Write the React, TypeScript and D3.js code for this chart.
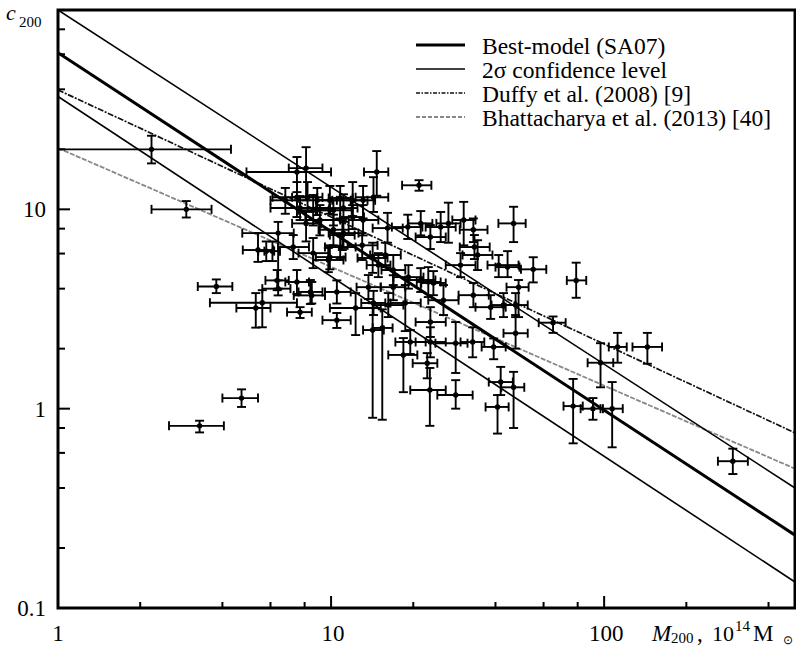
import React from 'react';
import * as d3 from 'd3';

// ---- data ----
const xMajorTicks = [1, 10, 100];
const xMinorTicks = [2, 4, 6, 8, 20, 40, 60, 80, 200, 400];
const yMajorTicks = [0.1, 1, 10];
const yMinorTicks = [0.2, 0.4, 0.6, 0.8, 2, 4, 6, 8, 20, 40, 60, 80];

// model lines: c200 at M200 = 1 and 500 (10^14 Msun)
const modelMass = [1, 500];
const bestModel = [61, 0.232];
const upper2sigma = [100, 0.4];
const lower2sigma = [36.8, 0.135];
const duffy2008 = [39.7, 0.756];
const bhattacharya2013 = [20.3, 0.5];

const legendLabels = [
  'Best-model (SA07)',
  '2\u03c3 confidence level',
  'Duffy et al. (2008) [9]',
  'Bhattacharya et al. (2013) [40]',
];

// clusters: [M200, M_low, M_high, c200, c_low, c_high]
const clusters: number[][] = [
  [2.2, 1.0, 4.3, 20, 17.0, 23.4],
  [2.95, 2.2, 3.65, 10, 9.1, 11],
  [3.8, 3.25, 4.35, 4.1, 3.8, 4.45],
  [4.7, 4.0, 5.4, 1.13, 1.02, 1.25],
  [3.3, 2.55, 4.05, 0.82, 0.76, 0.87],
  [7.5, 4.9, 10, 15.4, 12.2, 18.3],
  [8.1, 7.0, 9.3, 16.1, 11.1, 20.5],
  [14.7, 13.2, 16.2, 15.4, 11.7, 19.6],
  [21, 18.2, 23.3, 13.2, 12.4, 14.0],
  [46.6, 41, 51.6, 8.5, 6.85, 10.3],
  [79, 73, 86, 4.4, 3.6, 5.4],
  [55, 49.6, 61.4, 5.0, 4.3, 5.75],
  [65, 57.6, 72.3, 2.7, 2.4, 2.9],
  [112, 104, 121, 2.04, 1.7, 2.4],
  [144, 127, 163, 2.04, 1.68, 2.4],
  [97, 87, 108, 1.7, 1.28, 2.13],
  [91, 82, 97, 1.0, 0.88, 1.13],
  [107, 99, 117, 1.0, 0.64, 1.36],
  [77, 71, 83.5, 1.03, 0.67, 1.41],
  [296, 261, 336, 0.545, 0.47, 0.63],
  [23, 19.5, 26.3, 1.24, 0.82, 1.6],
  [28.6, 24.5, 33, 1.17, 1.0, 1.39],
  [40.7, 36.8, 44.7, 1.02, 0.75, 1.17],
  [41.8, 37.8, 46.3, 1.36, 1.17, 1.62],
  [46.6, 42, 51, 1.28, 0.8, 1.53],
  [18.4, 16.2, 20.7, 1.86, 1.21, 2.26],
  [22.5, 19.9, 24.5, 1.69, 1.42, 1.9],
  [14.2, 13.1, 15.6, 2.48, 0.9, 3.38],
  [15.4, 14.2, 16.8, 2.54, 0.88, 3.15],
  [5.6, 3.6, 7.5, 3.4, 2.56, 3.93],
  [5.3, 4.5, 6.0, 3.2, 2.55, 3.8],
  [7.7, 6.9, 8.5, 3.05, 2.85, 3.23],
  [10.5, 9.3, 11.8, 2.78, 2.54, 3.02],
  [8.5, 7.3, 9.5, 3.7, 3.37, 4.32],
  [6.4, 5.6, 7.1, 4.0, 3.7, 4.4],
  [12.3, 9.9, 15.2, 3.2, 2.34, 3.8],
  [10.5, 9.5, 11.8, 3.85, 3.37, 4.4],
  [16.9, 15.2, 18.7, 4.07, 3.5, 4.67],
  [5.4, 4.75, 6.15, 6.25, 5.45, 7.6],
  [6.4, 4.73, 7.3, 7.6, 4.0, 8.65],
  [6.35, 5.75, 7.0, 4.4, 3.93, 4.96],
  [6.8, 6.0, 7.7, 11.1, 9.5, 12.8],
  [7.5, 6.1, 8.9, 11.5, 9.15, 13.7],
  [8.2, 7.2, 9.3, 11.5, 9.7, 13.7],
  [8.9, 7.5, 10.1, 11.1, 9.36, 12.8],
  [9.9, 8.8, 11.8, 11.1, 9.5, 13.1],
  [10.8, 9.8, 12.0, 11.4, 9.0, 13.1],
  [12.0, 10.5, 13.6, 11.1, 9.25, 13.7],
  [13.1, 11.9, 14.5, 11.1, 9.0, 13.1],
  [14.3, 12.3, 16.2, 11.5, 9.7, 14.5],
  [7.7, 6.0, 9.9, 10.15, 8.84, 11.66],
  [8.6, 7.6, 9.8, 9.9, 8.3, 11.8],
  [10.2, 8.8, 11.9, 9.9, 8.3, 11.1],
  [11.1, 9.85, 12.5, 10.15, 8.65, 11.9],
  [8.1, 7.2, 9.2, 8.5, 6.9, 9.8],
  [9.1, 8.05, 10.8, 8.84, 7.4, 10.5],
  [10.2, 9.0, 11.6, 7.9, 6.6, 9.4],
  [11.1, 9.8, 12.6, 7.6, 6.4, 9.0],
  [12.0, 10.8, 13.2, 9.15, 7.96, 10.5],
  [13.1, 11.6, 14.9, 8.84, 7.4, 10.5],
  [16.1, 14.2, 18.3, 8.05, 6.8, 9.6],
  [19.1, 16.7, 21.6, 8.15, 7.1, 9.4],
  [21.3, 19.2, 23.5, 8.5, 7.4, 9.8],
  [23.1, 20.4, 26.3, 7.26, 6.32, 8.34],
  [25.2, 22.2, 28.6, 8.15, 6.85, 9.7],
  [26.9, 24.3, 29.8, 8.5, 6.8, 10.8],
  [30.6, 27.8, 33.8, 8.84, 6.6, 10.9],
  [33.2, 29.6, 37.4, 7.9, 6.85, 9.0],
  [33.5, 29.6, 38.1, 6.47, 5.63, 7.43],
  [7.27, 6.4, 8.3, 6.47, 5.63, 7.43],
  [8.6, 7.6, 9.8, 6.03, 5.07, 7.18],
  [9.9, 8.8, 11.3, 5.76, 5.0, 6.6],
  [10.8, 9.5, 12.3, 6.47, 5.63, 7.43],
  [11.0, 9.9, 12.2, 7.43, 6.25, 8.84],
  [13.0, 11.5, 14.8, 6.6, 5.57, 7.6],
  [14.2, 12.5, 16.1, 5.7, 4.8, 6.8],
  [14.9, 13.5, 16.5, 5.25, 4.57, 6.03],
  [15.8, 13.9, 18.0, 5.9, 5.13, 6.8],
  [16.9, 15.3, 18.7, 4.96, 4.17, 5.9],
  [19.2, 16.9, 21.8, 4.57, 4.0, 5.25],
  [21.3, 18.7, 24.1, 4.42, 3.85, 5.07],
  [22.7, 20.6, 25.2, 4.32, 3.63, 5.13],
  [29.8, 26.3, 33.8, 5.25, 4.57, 6.03],
  [34.4, 30.3, 39.0, 5.9, 4.96, 7.0],
  [41.1, 37.4, 48.6, 5.25, 4.57, 5.9],
  [44.3, 40.0, 49.0, 5.13, 4.57, 6.17],
  [14.3, 12.9, 15.8, 3.39, 2.95, 3.9],
  [16.2, 14.3, 18.4, 3.31, 2.88, 3.8],
  [18.7, 16.5, 21.3, 3.39, 2.45, 4.17],
  [25.8, 22.7, 29.3, 3.5, 2.95, 4.17],
  [33.2, 29.3, 37.8, 3.71, 3.23, 4.27],
  [38.4, 33.8, 43.6, 3.23, 2.82, 3.71],
  [42.8, 38.7, 47.4, 3.31, 2.88, 3.8],
  [47.4, 42.8, 52.5, 3.31, 2.88, 3.8],
  [48.6, 43.9, 52.9, 4.07, 2.88, 4.42],
  [23.7, 21.4, 26.3, 4.27, 3.71, 4.9],
  [23.1, 20.4, 26.3, 2.72, 2.29, 3.23],
  [19.5, 17.2, 22.2, 2.16, 1.88, 2.48],
  [23.1, 20.4, 26.3, 2.16, 1.81, 2.56],
  [28.6, 24.1, 31.6, 2.13, 1.51, 2.72],
  [33.0, 29.8, 36.4, 2.16, 1.81, 2.56],
  [39.4, 35.6, 43.6, 2.04, 1.77, 2.25],
  [47.4, 42.8, 52.5, 2.39, 2.0, 2.95],
  [8.4, 7.6, 9.3, 3.85, 3.35, 4.42],
  [7.5, 6.8, 8.3, 4.32, 3.76, 4.96],
  [13.7, 12.4, 15.2, 4.07, 3.55, 4.68],
  [9.77, 8.6, 11.1, 5.57, 4.84, 6.4],
  [5.79, 5.41, 6.19, 6.17, 5.5, 6.9],
  [6.1, 5.7, 6.5, 6.17, 5.5, 6.9],
];

const FONT = "'Liberation Serif', 'Times New Roman', Times, serif";

export default function App() {
  const left = 58, right = 795, top = 10, bottom = 608;
  const x = d3.scaleLog().domain([1, 500]).range([left, right]);
  const y = d3.scaleLog().domain([0.1, 100]).range([bottom, top]);

  const line = d3
    .line<[number, number]>()
    .x((d) => x(d[0]))
    .y((d) => y(d[1]));
  const mk = (vals: number[]) => line(modelMass.map((m, i) => [m, vals[i]] as [number, number])) || '';

  const cap = 4.5;
  const legendStyles = [
    { stroke: '#000', width: 3, dash: undefined as string | undefined },
    { stroke: '#000', width: 1.6, dash: undefined as string | undefined },
    { stroke: '#111', width: 1.7, dash: '4,1.5,1.5,1.5' },
    { stroke: '#888', width: 1.8, dash: '4,2' },
  ];

  return (
    <svg
      width={796}
      height={647}
      style={{ position: 'absolute', left: 0, top: 0, display: 'block', background: '#fff', fontFamily: FONT }}
    >
      <defs>
        <clipPath id="plotclip">
          <rect x={left} y={top} width={right - left} height={bottom - top} />
        </clipPath>
      </defs>
      <rect x={0} y={0} width={796} height={647} fill="#fff" />

      {/* model lines */}
      <g clipPath="url(#plotclip)" fill="none">
        <path d={mk(bhattacharya2013)} stroke="#888" strokeWidth={1.8} strokeDasharray="5,1.5" />
        <path d={mk(duffy2008)} stroke="#111" strokeWidth={1.7} strokeDasharray="6,1.5,2,1.5" />
        <path d={mk(upper2sigma)} stroke="#000" strokeWidth={1.6} />
        <path d={mk(lower2sigma)} stroke="#000" strokeWidth={1.6} />
        <path d={mk(bestModel)} stroke="#000" strokeWidth={3} />
      </g>

      {/* data points with error bars */}
      <g stroke="#000" strokeWidth={1.9} fill="#000">
        {clusters.map((d, i) => {
          const cx = x(d[0]);
          const cy = y(d[3]);
          const x0 = x(d[1]);
          const x1 = x(d[2]);
          const y0 = y(d[4]);
          const y1 = y(d[5]);
          return (
            <g key={i}>
              <line x1={x0} x2={x1} y1={cy} y2={cy} />
              <line x1={x0} x2={x0} y1={cy - cap} y2={cy + cap} />
              <line x1={x1} x2={x1} y1={cy - cap} y2={cy + cap} />
              <line x1={cx} x2={cx} y1={y0} y2={y1} />
              <line x1={cx - cap} x2={cx + cap} y1={y0} y2={y0} />
              <line x1={cx - cap} x2={cx + cap} y1={y1} y2={y1} />
              <circle cx={cx} cy={cy} r={2.7} stroke="none" />
            </g>
          );
        })}
      </g>

      {/* frame */}
      <rect x={left} y={top} width={right - left} height={bottom - top} fill="none" stroke="#000" strokeWidth={3} />

      {/* ticks */}
      <g stroke="#000" strokeWidth={2}>
        {xMajorTicks.map((t) => (
          <line key={'xM' + t} x1={x(t)} x2={x(t)} y1={bottom} y2={bottom - 12} />
        ))}
        {xMinorTicks.map((t) => (
          <line key={'xm' + t} x1={x(t)} x2={x(t)} y1={bottom} y2={bottom - 6} />
        ))}
        {yMajorTicks.map((t) => (
          <line key={'yM' + t} x1={left} x2={left + 12} y1={y(t)} y2={y(t)} />
        ))}
        {yMinorTicks.map((t) => (
          <line key={'ym' + t} x1={left} x2={left + 7} y1={y(t)} y2={y(t)} />
        ))}
      </g>

      {/* tick labels */}
      <g fontSize={23} fill="#000">
        {xMajorTicks.map((t) => (
          <text key={'xl' + t} x={x(t) + (t === 1 ? 0 : 2)} y={641} textAnchor="middle">
            {String(t)}
          </text>
        ))}
        {yMajorTicks.map((t) => (
          <text key={'yl' + t} x={46} y={y(t) + 8} textAnchor="end">
            {String(t)}
          </text>
        ))}
      </g>

      {/* axis titles */}
      <text y={20} fontSize={22} fontStyle="italic" x={6}>c</text>
      <text y={27} fontSize={15} x={19}>200</text>

      <g fill="#000">
        <text x={652} y={641} fontSize={23} fontStyle="italic">M</text>
        <text x={671} y={643} fontSize={15}>200</text>
        <text x={697} y={641} fontSize={23}>,</text>
        <text x={712} y={641} fontSize={22}>10</text>
        <text x={735} y={631} fontSize={15}>14</text>
        <text x={753} y={641} fontSize={23}>M</text>
        <text x={783} y={644} fontSize={12}>{'\u2299'}</text>
      </g>

      {/* legend */}
      <g>
        {legendLabels.map((lab, i) => {
          const ly = 45 + i * 24;
          const st = legendStyles[i];
          return (
            <g key={lab}>
              <line x1={416} x2={465} y1={ly} y2={ly} stroke={st.stroke} strokeWidth={st.width} strokeDasharray={st.dash} />
              <text x={482} y={ly + 8.5} fontSize={23.5} fill="#000">
                {lab}
              </text>
            </g>
          );
        })}
      </g>
    </svg>
  );
}
